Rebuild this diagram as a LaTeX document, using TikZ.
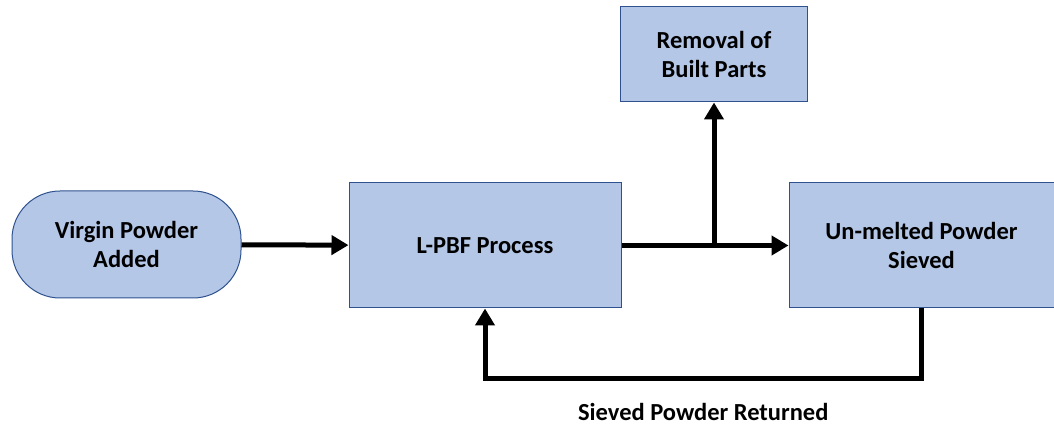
\documentclass[tikz,border=0pt]{standalone}
\usepackage{fontspec}
\setmainfont{Carlito}
\usepackage{tikz}
\usetikzlibrary{arrows.meta, positioning, calc}
\definecolor{boxfill}{HTML}{B4C7E7}
\definecolor{boxline}{HTML}{2F528F}
\tikzset{
  proc/.style  = {rectangle, draw=boxline, line width=1pt, fill=boxfill,
                  align=center, font=\fontsize{24.5}{29.5}\selectfont\bfseries,
                  inner sep=0pt},
  term/.style  = {proc, rounded corners=48pt},
  fl/.style    = {-{Triangle[length=17pt, width=19pt]}, draw=black,
                  line width=5pt},
  lbl/.style   = {font=\fontsize{24.5}{29.5}\selectfont\bfseries, inner sep=0pt},
}

\begin{document}
\begin{tikzpicture}[x=1pt, y=1pt]
  \useasboundingbox (0,0) rectangle (1054,-427);
  \node[term, minimum width=229pt, minimum height=107pt] (virgin) at (126.5,-244.5) {Virgin Powder\\Added};
  \node[proc, minimum width=272pt, minimum height=125pt] (lpbf) at (485,-245.5) {L-PBF Process};
  \node[proc, minimum width=265pt, minimum height=125pt, right=167pt of lpbf] (sieve) {Un-melted Powder\\Sieved};
  \node[proc, minimum width=187pt, minimum height=95pt] (remove) at (714,-54.5) {Removal of\\Built Parts};
  \node[lbl] (retlbl) at ($(lpbf.south)!0.5!(sieve.south) + (0,-103)$) {Sieved Powder Returned};

  \coordinate (split) at (remove.south |- lpbf.east);

  \draw[fl] (virgin) -- (lpbf);
  \draw[fl] (lpbf) -- (sieve);
  \draw[fl] (split) -- (remove.south);
  \draw[fl, line join=miter] (sieve.south) -- ++(0,-70) -| (lpbf.south);
\end{tikzpicture}
\end{document}
